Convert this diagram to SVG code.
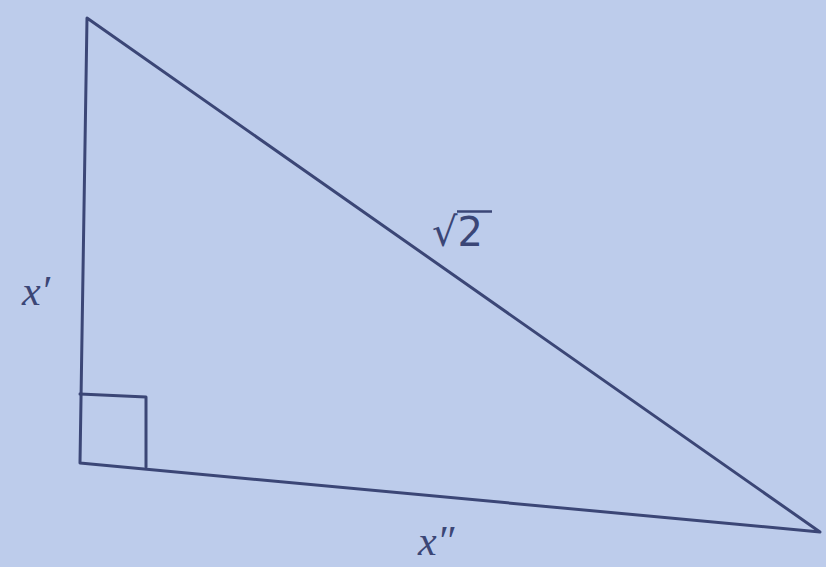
<svg xmlns="http://www.w3.org/2000/svg" width="826" height="567" viewBox="0 0 826 567">
<style>
.ln{fill:none;stroke:#3b4676;stroke-width:3;stroke-linejoin:round;stroke-linecap:round}
.lb{font-family:"Liberation Serif",serif;font-style:italic;fill:#3b4676;font-size:42px}
.rt{font-family:"DejaVu Sans","Liberation Sans",sans-serif;fill:#3b4676;font-size:40px}
</style>
<rect width="826" height="567" fill="#bdcceb"/>
<g id="triangle">
<polygon class="ln" points="87,18 80,463 820,532"/>
<polyline class="ln" points="80,394 146,397 146,467"/>
</g>
<g id="labels">
<text class="rt" x="432" y="246">√2</text>
<line x1="457" y1="211.5" x2="492" y2="211.5" stroke="#3b4676" stroke-width="2.5"/>
<text class="lb" x="22" y="305">x′</text>
<text class="lb" x="418" y="555">x″</text>
</g>
</svg>
